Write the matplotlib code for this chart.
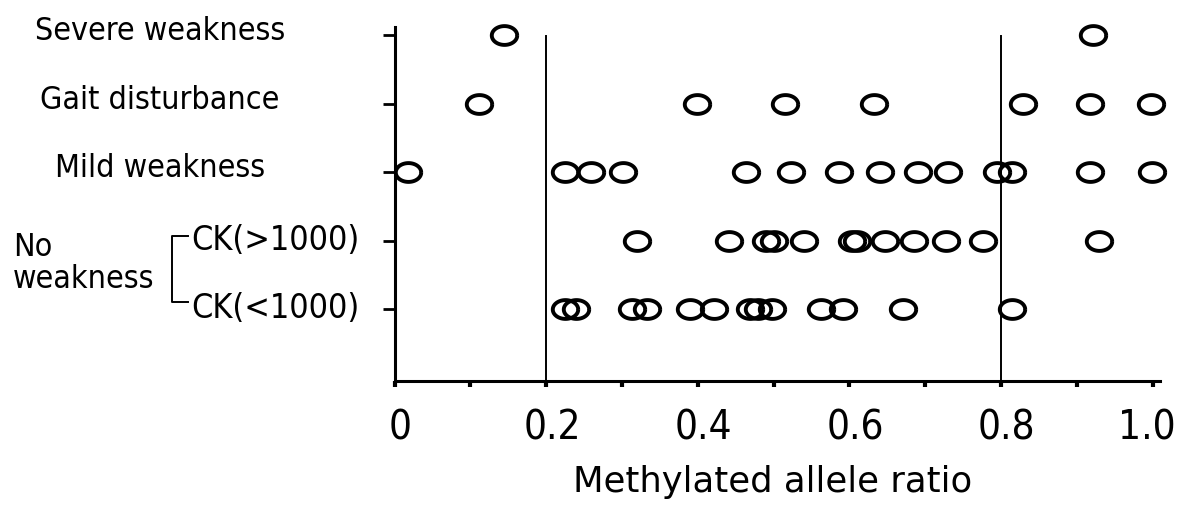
import numpy as np
import matplotlib
matplotlib.use("Agg")
import matplotlib.pyplot as plt
import matplotlib.transforms as mtransforms

# rows from top to bottom
row_labels = ["Severe weakness", "Gait disturbance", "Mild weakness", "CK(>1000)", "CK(<1000)"]
row_pos = [5, 4, 3, 2, 1]

# methylated allele ratio per patient
severe = [0.144, 0.922]
gait = [0.111, 0.399, 0.515, 0.632, 0.829, 0.917, 0.998]
mild = [0.018, 0.225, 0.259, 0.301, 0.464, 0.523, 0.587, 0.640, 0.690,
        0.730, 0.795, 0.815, 0.917, 0.999]
ck_high = [0.320, 0.441, 0.490, 0.500, 0.540, 0.603, 0.610, 0.647, 0.685,
           0.727, 0.777, 0.930]
ck_low = [0.225, 0.239, 0.313, 0.333, 0.390, 0.421, 0.469, 0.480, 0.498,
          0.562, 0.592, 0.671, 0.815]
groups = [severe, gait, mild, ck_high, ck_low]

cutoffs = [0.2, 0.8]
xticks_major = [0, 0.2, 0.4, 0.6, 0.8, 1.0]
xtick_labels = ["0", "0.2", "0.4", "0.6", "0.8", "1.0"]
xticks_minor = [0.1, 0.3, 0.5, 0.7, 0.9]

W, H = 1177, 509
fig = plt.figure(figsize=(W / 100, H / 100), dpi=100)
ax = fig.add_axes([394.5 / W, (H - 381) / H, 765.6 / W, (381 - 27) / H])
ax.set_xlim(0, 1.01)
ax.set_ylim(-0.051, 5.117)

# slightly flattened open circle
t = np.linspace(0, 2 * np.pi, 80)
ellipse = np.column_stack([np.cos(t), 0.74 * np.sin(t)])

for vals, y in zip(groups, row_pos):
    ax.plot(vals, [y] * len(vals), linestyle="none", marker=ellipse,
            markersize=18.3, markerfacecolor="none", markeredgecolor="black",
            markeredgewidth=2.8, clip_on=False, zorder=3)

for c in cutoffs:
    ax.plot([c, c], [ax.get_ylim()[0], 4.99], color="black", lw=1.4, zorder=2)

for side in ["top", "right"]:
    ax.spines[side].set_visible(False)
for side in ["left", "bottom"]:
    ax.spines[side].set_linewidth(2.2)

ax.set_yticks(row_pos)
ax.set_yticklabels([])
ax.tick_params(axis="y", direction="out", length=9, width=2.0)

ax.set_xticks(xticks_major)
ax.set_xticks(xticks_minor, minor=True)
ax.set_xticklabels(xtick_labels, fontsize=29, family="DejaVu Sans",
                   fontstretch="condensed")
ax.tick_params(axis="x", which="both", direction="out", length=4, width=3, pad=16)
# labels sit a little right of their ticks in the original, the last one a bit left
shift = mtransforms.ScaledTranslation(6 / 100, 0, fig.dpi_scale_trans)
back = mtransforms.ScaledTranslation(-6 / 100, 0, fig.dpi_scale_trans)
xlabs = ax.get_xticklabels()
for lab in xlabs[:-1]:
    lab.set_transform(lab.get_transform() + shift)
xlabs[-1].set_transform(xlabs[-1].get_transform() + back)

fig.text(773 / W, 17 / H, "Methylated allele ratio", ha="center", va="baseline",
         fontsize=25.5, family="DejaVu Sans")

# row labels: x in figure pixels, y in data units
blend = mtransforms.blended_transform_factory(fig.transFigure, ax.transData)
lab_font = dict(family="DejaVu Sans", fontstretch="condensed", fontsize=23)
down = lambda px: blend + mtransforms.ScaledTranslation(0, -px / 100, fig.dpi_scale_trans)

for lab, y in zip(row_labels[:3], row_pos[:3]):
    ax.text(160 / W, y, lab, ha="center", va="baseline", transform=down(5), **lab_font)

for lab, y in zip(row_labels[3:], row_pos[3:]):
    ax.text(191 / W, y, lab, ha="left", va="baseline", transform=down(9),
            family="DejaVu Sans", fontstretch="condensed", fontsize=24.5)

ax.text(13 / W, 2, "No", ha="left", va="baseline", transform=down(15), **lab_font)
ax.text(13 / W, 1, "weakness", ha="left", va="baseline", transform=down(-21), **lab_font)

# bracket joining the two CK rows
bx0, bx1 = 172 / W, 188 / W
ax.plot([bx1, bx0, bx0, bx1], [2.06, 2.06, 1.1, 1.1], color="black", lw=1.4,
        transform=blend, clip_on=False)

fig.savefig("out.png", dpi=100)
